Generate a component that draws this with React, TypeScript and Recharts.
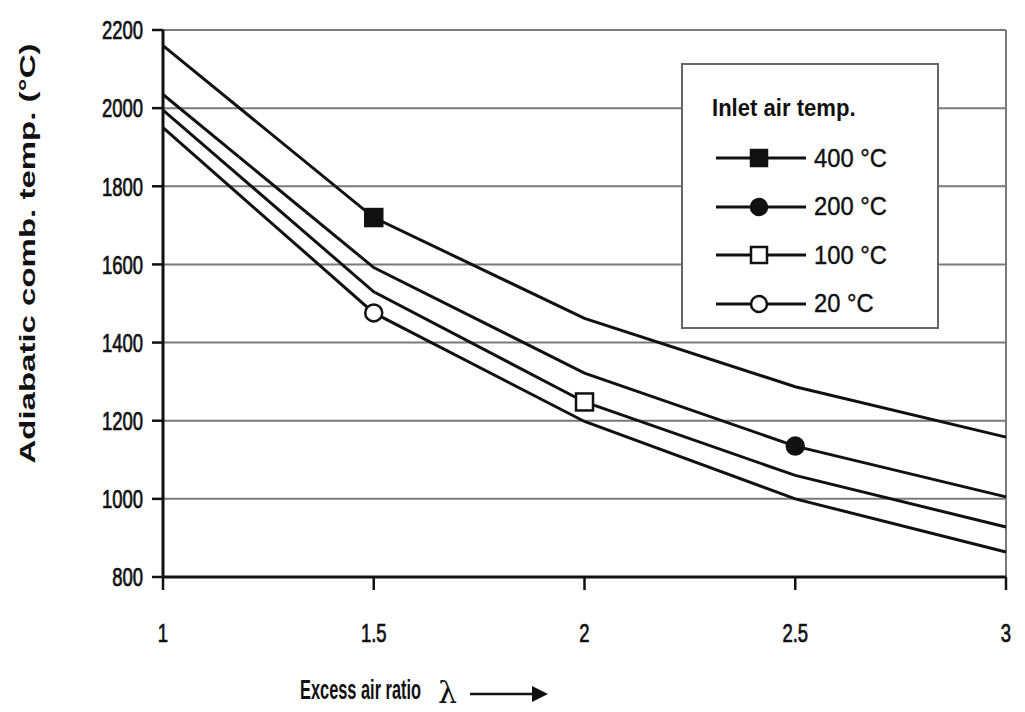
import React from 'react';
import { LineChart, Line, XAxis, YAxis, CartesianGrid, ReferenceLine } from 'recharts';

// Excess air ratio (x) and adiabatic combustion temperature per inlet air temperature
const airRatio = [1, 1.5, 2, 2.5, 3];
const temp400 = [2160, 1720, 1462, 1287, 1158];
const temp200 = [2035, 1592, 1322, 1135, 1005];
const temp100 = [1995, 1530, 1248, 1060, 928];
const temp20 = [1950, 1476, 1198, 1000, 864];

const xTicks = [1, 1.5, 2, 2.5, 3];
const yTicks = [800, 1000, 1200, 1400, 1600, 1800, 2000, 2200];

const series = [
  { key: 't400', label: '400 °C', values: temp400, marker: 'square', filled: true, markAt: 1.5 },
  { key: 't200', label: '200 °C', values: temp200, marker: 'circle', filled: true, markAt: 2.5 },
  { key: 't100', label: '100 °C', values: temp100, marker: 'square', filled: false, markAt: 2 },
  { key: 't20', label: '20 °C', values: temp20, marker: 'circle', filled: false, markAt: 1.5 },
];

const data = airRatio.map((x, i) => {
  const row: any = { x };
  series.forEach((s) => { row[s.key] = s.values[i]; });
  return row;
});

const FONT = '"Liberation Sans", Arial, sans-serif';
const INK = '#111';

const Marker = ({ cx, cy, type, filled, size = 17 }: any) => {
  const fill = filled ? INK : '#fff';
  if (type === 'square') {
    return <rect x={cx - size / 2} y={cy - size / 2} width={size} height={size} fill={fill} stroke={INK} strokeWidth={2.5} />;
  }
  return <circle cx={cx} cy={cy} r={size / 2} fill={fill} stroke={INK} strokeWidth={2.5} />;
};

const makeDot = (s: any) => (props: any) => {
  const { cx, cy, payload, index } = props;
  if (payload.x !== s.markAt) return <g key={`${s.key}-${index}`} />;
  return <g key={`${s.key}-${index}`}><Marker cx={cx} cy={cy} type={s.marker} filled={s.filled} /></g>;
};

const XTick = ({ x, y, payload }: any) => (
  <g transform={`translate(${x},${y}) scale(0.88,1.25)`}>
    <text x={0} y={0} textAnchor="middle" dominantBaseline="central" fontFamily={FONT} fontSize={21} fill={INK} stroke={INK} strokeWidth={0.6}>
      {payload.value}
    </text>
  </g>
);

const YTick = ({ x, y, payload }: any) => (
  <g transform={`translate(${x},${y}) scale(0.88,1.25)`}>
    <text x={0} y={0} textAnchor="end" dominantBaseline="central" fontFamily={FONT} fontSize={21} fill={INK} stroke={INK} strokeWidth={0.6}>
      {payload.value}
    </text>
  </g>
);

const YTitle = ({ viewBox }: any) => (
  <g transform={`translate(${viewBox.x + 28},${viewBox.y + viewBox.height / 2 - 50}) rotate(-90) scale(1.5,1)`}>
    <text x={0} y={0} textAnchor="middle" dominantBaseline="central" fontFamily={FONT} fontSize={22} fontWeight="bold" fill={INK}>
      Adiabatic comb. temp. (°C)
    </text>
  </g>
);

const XTitle = ({ viewBox }: any) => {
  const left = viewBox.x + 137;
  const cy = viewBox.y + 113;
  return (
    <g>
      <g transform={`translate(${left},${cy}) scale(0.78,1.3)`}>
        <text x={0} y={0} dominantBaseline="central" fontFamily={FONT} fontSize={21} fontWeight="bold" fill={INK}>
          Excess air ratio
        </text>
      </g>
      <text x={left + 138} y={cy + 2} dominantBaseline="central" fontFamily='"DejaVu Serif", serif' fontSize={30} fill={INK}>
        λ
      </text>
      <line x1={left + 170} y1={cy + 4} x2={left + 236} y2={cy + 4} stroke={INK} strokeWidth={2.5} />
      <polygon points={`${left + 248},${cy + 4} ${left + 232},${cy - 4} ${left + 232},${cy + 12}`} fill={INK} />
    </g>
  );
};

const LegendBox = () => (
  <div
    style={{
      position: 'absolute',
      left: 681,
      top: 63,
      width: 258,
      height: 266,
      border: '2px solid #666',
      background: '#fff',
      boxSizing: 'border-box',
      fontFamily: FONT,
      color: INK,
      paddingTop: 26,
    }}
  >
    <div style={{ fontWeight: 'bold', fontSize: 24, marginLeft: 29, transform: 'scaleX(0.92)', transformOrigin: 'left', lineHeight: '34px' }}>
      Inlet air temp.
    </div>
    <div style={{ marginTop: 9 }}>
      {series.map((s) => (
        <div key={s.key} style={{ display: 'flex', alignItems: 'center', height: 48.5 }}>
          <svg width={130} height={30} style={{ display: 'block' }}>
            <line x1={33} y1={15} x2={123} y2={15} stroke={INK} strokeWidth={3} />
            <Marker cx={76} cy={15} type={s.marker} filled={s.filled} size={16} />
          </svg>
          <span style={{ fontSize: 25, marginLeft: 1, transform: 'scaleX(0.95)', transformOrigin: 'left', WebkitTextStroke: '0.4px #111' }}>{s.label}</span>
        </div>
      ))}
    </div>
  </div>
);

export default function App() {
  return (
    <div style={{ position: 'absolute', left: 0, top: 0, width: 1025, height: 712, background: '#fff' }}>
      <LineChart width={1025} height={712} data={data} margin={{ top: 30, right: 19, bottom: 0, left: 0 }}>
        <CartesianGrid vertical={false} stroke="#7a7a7a" strokeWidth={2} />
        <ReferenceLine x={3} stroke="#7a7a7a" strokeWidth={2} />
        <XAxis
          dataKey="x"
          type="number"
          domain={[1, 3]}
          ticks={xTicks}
          height={135}
          tickSize={13}
          tickMargin={43}
          tick={<XTick />}
          axisLine={{ stroke: INK, strokeWidth: 3 }}
          tickLine={{ stroke: INK, strokeWidth: 2.5 }}
          label={<XTitle />}
        />
        <YAxis
          type="number"
          domain={[800, 2200]}
          ticks={yTicks}
          width={163}
          tickSize={11}
          tickMargin={9}
          tick={<YTick />}
          axisLine={{ stroke: INK, strokeWidth: 3 }}
          tickLine={{ stroke: INK, strokeWidth: 2.5 }}
          label={<YTitle />}
        />
        {series.map((s) => (
          <Line
            key={s.key}
            dataKey={s.key}
            type="linear"
            stroke={INK}
            strokeWidth={3}
            dot={makeDot(s)}
            activeDot={false}
            isAnimationActive={false}
          />
        ))}
      </LineChart>
      <LegendBox />
    </div>
  );
}
